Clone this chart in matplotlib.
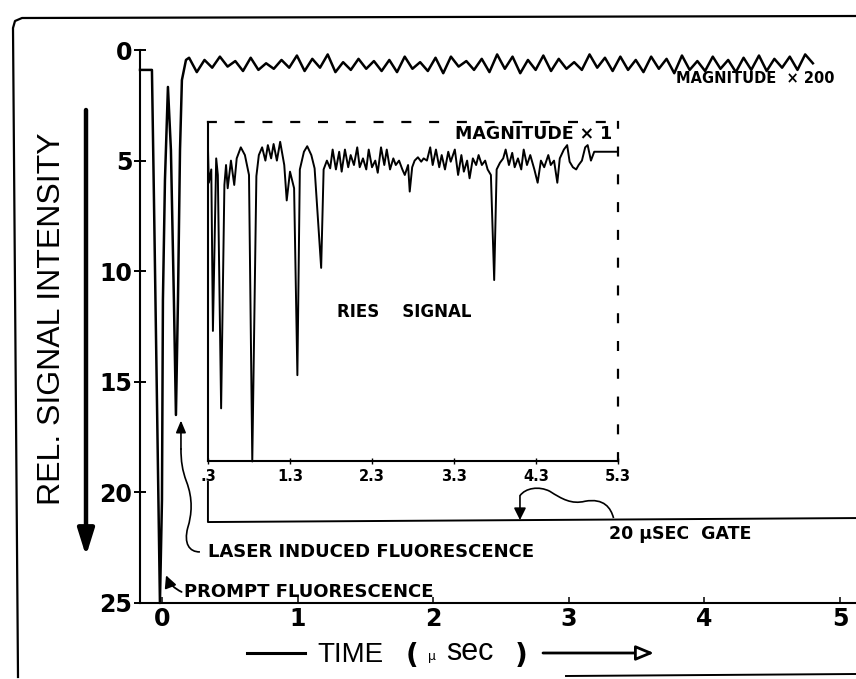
import numpy as np
import matplotlib
matplotlib.use("Agg")
import matplotlib.pyplot as plt
from matplotlib.path import Path
from matplotlib.patches import PathPatch, FancyArrowPatch
from matplotlib.lines import Line2D

# fast transient (magnitude x200): time in usec, relative signal (plotted downward)
fast_t = [-0.162, -0.074, -0.059, -0.037, -0.015, 0.0, 0.007, 0.022, 0.044, 0.066,
          0.088, 0.103, 0.118, 0.133, 0.147, 0.177]
fast_s = [0.90, 0.90, 6.78, 15.82, 25.0, 20.34, 11.30, 5.88, 1.67, 4.52,
          11.30, 16.50, 11.30, 4.52, 1.36, 0.45]

# ripple on the x200 baseline after the fluorescence has decayed
ripple_start, ripple_end = 0.20, 4.80
ripple_s = [0.35, 1.0, 0.45, 0.8, 0.3, 0.75, 0.5, 0.95, 0.35, 0.9,
            0.6, 0.85, 0.45, 0.8, 0.25, 0.95, 0.4, 0.8, 0.2, 1.0,
            0.55, 0.9, 0.4, 0.85, 0.5, 0.95, 0.45, 1.0, 0.3, 0.85,
            0.55, 0.95, 0.35, 1.05, 0.3, 0.75, 0.5, 0.9, 0.4, 1.0,
            0.2, 0.85, 0.3, 1.05, 0.45, 0.9, 0.25, 0.95, 0.4, 0.85,
            0.55, 0.9, 0.2, 0.8, 0.35, 0.95, 0.3, 0.9, 0.45, 1.0,
            0.3, 0.85, 0.4, 1.05, 0.25, 0.9, 0.5, 0.95, 0.3, 0.85,
            0.45, 1.0, 0.35, 0.9, 0.25, 0.95, 0.4, 0.8, 0.3, 0.9,
            0.2, 0.6]

# RIES signal (magnitude x1), gated window .3 - 5.3 usec
ries_t = [0.30, 0.31, 0.34, 0.36, 0.40, 0.42, 0.46, 0.50, 0.52, 0.54,
          0.58, 0.62, 0.65, 0.70, 0.75, 0.80, 0.84, 0.89, 0.92, 0.96,
          1.00, 1.03, 1.07, 1.10, 1.14, 1.18, 1.23, 1.26, 1.30, 1.35,
          1.39, 1.42, 1.47, 1.51, 1.56, 1.60, 1.68, 1.71, 1.75, 1.79,
          1.82, 1.86, 1.90, 1.93, 1.97, 2.01, 2.04, 2.08, 2.12, 2.15,
          2.19, 2.23, 2.26, 2.30, 2.34, 2.37, 2.41, 2.45, 2.48, 2.52,
          2.56, 2.59, 2.63, 2.67, 2.70, 2.74, 2.76, 2.79, 2.82, 2.86,
          2.90, 2.93, 2.97, 3.01, 3.04, 3.08, 3.12, 3.15, 3.19, 3.23,
          3.26, 3.31, 3.35, 3.39, 3.42, 3.46, 3.49, 3.53, 3.57, 3.60,
          3.64, 3.68, 3.71, 3.75, 3.79, 3.82, 3.86, 3.90, 3.93, 3.97,
          4.01, 4.04, 4.08, 4.12, 4.15, 4.19, 4.23, 4.28, 4.32, 4.36,
          4.40, 4.45, 4.48, 4.52, 4.56, 4.59, 4.64, 4.68, 4.71, 4.75,
          4.79, 4.82, 4.86, 4.90, 4.93, 4.97, 5.01, 5.04, 5.29]
ries_s = [4.5, 6.0, 5.4, 12.7, 4.9, 5.65, 16.2, 6.1, 5.2, 6.25,
          5.0, 6.1, 4.9, 4.4, 4.75, 5.65, 18.6, 5.7, 4.75, 4.4,
          5.0, 4.3, 4.9, 4.25, 5.0, 4.15, 5.2, 6.8, 5.5, 6.25,
          14.7, 5.4, 4.6, 4.35, 4.75, 5.35, 9.85, 5.4, 5.0, 5.35,
          4.5, 5.4, 4.6, 5.5, 4.5, 5.3, 4.75, 5.2, 4.4, 5.3,
          4.9, 5.4, 4.5, 5.3, 5.0, 5.55, 4.4, 5.2, 4.5, 5.4,
          4.9, 5.2, 5.0, 5.4, 5.65, 5.2, 6.4, 5.3, 5.0, 4.85,
          5.05, 4.9, 5.0, 4.4, 5.2, 4.5, 5.3, 4.75, 5.4, 4.6,
          5.05, 4.5, 5.65, 4.75, 5.5, 5.0, 5.8, 4.9, 5.2, 4.75,
          5.2, 5.0, 5.4, 5.65, 10.4, 5.4, 5.1, 4.9, 4.5, 5.2,
          4.65, 5.3, 4.9, 5.4, 4.5, 5.2, 4.75, 5.4, 6.0, 5.0,
          5.3, 4.75, 5.2, 5.0, 6.0, 4.9, 4.5, 4.3, 5.05, 5.3,
          5.4, 5.2, 5.0, 4.4, 4.3, 5.0, 4.6, 4.6, 4.6]

main_xticks = [0, 1, 2, 3, 4, 5]
main_yticks = [0, 5, 10, 15, 20, 25]
gate_xticks = [0.3, 1.3, 2.3, 3.3, 4.3, 5.3]
gate_xlabels = [".3", "1.3", "2.3", "3.3", "4.3", "5.3"]

W, H = 856, 679


def fx(x):
    return x / W


def fy(y):
    return 1 - y / H


plt.rcParams["font.family"] = ["DejaVu Sans"]
fig = plt.figure(figsize=(W / 100, H / 100), dpi=100)

# main axes, signal axis pointing down
ax = fig.add_axes([fx(140), fy(603), fx(856) - fx(140), fy(50) - fy(603)])
ax.set_xlim(-0.162, 5.118)
ax.set_ylim(25, 0)
for s in ("top", "right"):
    ax.spines[s].set_visible(False)
for s in ("left", "bottom"):
    ax.spines[s].set_linewidth(1.5)
ax.set_xticks(main_xticks)
ax.set_yticks(main_yticks)
ax.tick_params(axis="y", direction="inout", length=9, width=1.4, pad=1, labelsize=17)
ax.tick_params(axis="x", direction="in", length=4, width=1.1, pad=3, labelsize=17)
for lbl in ax.get_xticklabels() + ax.get_yticklabels():
    lbl.set_fontweight("bold")

ripple_t = np.linspace(ripple_start, ripple_end, len(ripple_s))
trace_t = list(fast_t) + list(ripple_t)
trace_s = list(fast_s) + list(ripple_s)
ax.plot(trace_t, trace_s, color="black", lw=1.8, solid_joinstyle="round", clip_on=False)

# gated RIES inset
ins = fig.add_axes([fx(208), fy(461), fx(618) - fx(208), fy(122) - fy(461)])
ins.patch.set_alpha(0)
ins.set_xlim(0.3, 5.3)
ins.set_ylim(18.58, 3.255)
ins.set_yticks([])
ins.set_xticks(gate_xticks)
ins.set_xticklabels(gate_xlabels, fontsize=10.5, fontweight="bold")
ins.tick_params(axis="x", direction="inout", length=5, width=1.0, pad=3)
for s in ("left", "bottom"):
    ins.spines[s].set_linewidth(1.5)
for s in ("top", "right"):
    ins.spines[s].set_linewidth(1.6)
    ins.spines[s].set_linestyle((0, (3.5, 9)))
ins.plot(ries_t, ries_s, color="black", lw=1.4, solid_joinstyle="round", clip_on=False)

# gate bracket
ax.plot([0.339, 0.339, 5.118], [19.53, 21.34, 21.16], color="black", lw=1.4, clip_on=False)

# annotations
bold = dict(fontweight="bold", color="black")
ax.text(3.79, 1.31, "MAGNITUDE  × 200", fontsize=10.5, ha="left", va="center", **bold)
ax.text(2.16, 3.80, "MAGNITUDE × 1", fontsize=12.5, ha="left", va="center", **bold)
ax.text(1.29, 11.84, "RIES    SIGNAL", fontsize=12, ha="left", va="center", **bold)
ax.text(0.339, 22.69, "LASER INDUCED FLUORESCENCE", fontsize=13, ha="left", va="center", **bold)
ax.text(0.162, 24.50, "PROMPT FLUORESCENCE", fontsize=13, ha="left", va="center", **bold)
ax.text(3.30, 21.88, "20 µSEC  GATE", fontsize=12.5, ha="left", va="center", **bold)

# wavy leader from the LIF label up to the second dip
lif_path = Path([(0.28, 22.69), (0.20, 22.70), (0.16, 22.30), (0.19, 21.60),
                 (0.22, 21.00), (0.23, 20.30), (0.18, 19.50),
                 (0.15, 19.00), (0.14, 18.60), (0.14, 18.00)],
                [Path.MOVETO] + [Path.CURVE4] * 9)
ax.add_patch(PathPatch(lif_path, fc="none", ec="black", lw=1.2, clip_on=False))
ax.annotate("", xy=(0.14, 16.75), xytext=(0.14, 18.05),
            arrowprops=dict(arrowstyle="-|>,head_length=0.6,head_width=0.25",
                            lw=1.2, color="black", mutation_scale=12, shrinkA=0, shrinkB=0))

# prompt fluorescence pointer
ax.annotate("", xy=(0.03, 23.75), xytext=(0.145, 24.5),
            arrowprops=dict(arrowstyle="-|>,head_length=0.6,head_width=0.3",
                            lw=1.3, color="black", mutation_scale=12,
                            shrinkA=0, shrinkB=0, connectionstyle="arc3,rad=-0.2"))

# gate start marker with its curly leader
gate_path = Path([(3.33, 21.16), (3.31, 20.70), (3.26, 20.25), (3.12, 20.40),
                  (3.02, 20.55), (2.95, 20.30), (2.86, 19.95),
                  (2.78, 19.70), (2.68, 19.80), (2.64, 20.15)],
                 [Path.MOVETO] + [Path.CURVE4] * 9)
ax.add_patch(PathPatch(gate_path, fc="none", ec="black", lw=1.2, clip_on=False))
ax.annotate("", xy=(2.64, 21.25), xytext=(2.64, 20.15),
            arrowprops=dict(arrowstyle="-|>,head_length=0.6,head_width=0.3",
                            lw=1.2, color="black", mutation_scale=12, shrinkA=0, shrinkB=0))

# axis titles
fig.text(fx(52), fy(319), "REL. SIGNAL INTENSITY", rotation=90, ha="center", va="center",
         fontsize=23, family="Liberation Sans")
fig.add_artist(FancyArrowPatch((fx(86), fy(110)), (fx(86), fy(556)), transform=fig.transFigure,
                               arrowstyle="-|>,head_length=0.8,head_width=0.25",
                               mutation_scale=20, lw=3.2, color="black", shrinkA=0, shrinkB=0))

fig.add_artist(Line2D([fx(247), fx(305)], [fy(653), fy(653)], color="black", lw=2.2))
fig.text(fx(317), fy(662), "TIME", fontsize=20, family="Liberation Sans", ha="left", va="baseline")
fig.text(fx(412), fy(664), "(", fontsize=20, fontweight="bold", ha="center", va="baseline")
fig.text(fx(432), fy(660), "µ", fontsize=9, ha="center", va="baseline")
fig.text(fx(446), fy(660), "sec", fontsize=22, family="Liberation Sans", ha="left", va="baseline")
fig.text(fx(521), fy(664), ")", fontsize=20, fontweight="bold", ha="center", va="baseline")
fig.add_artist(FancyArrowPatch((fx(543), fy(653)), (fx(654), fy(653)), transform=fig.transFigure,
                               arrowstyle="-|>,head_length=0.6,head_width=0.25",
                               mutation_scale=18, lw=2.0, fc="white", ec="black",
                               shrinkA=0, shrinkB=0))

# plate border
fig.add_artist(Line2D([fx(856), fx(22), fx(15), fx(13), fx(18)],
                      [fy(16), fy(18), fy(21), fy(28), fy(677)], color="black", lw=1.6))
fig.add_artist(Line2D([fx(566), fx(856)], [fy(676), fy(674)], color="black", lw=1.4))

fig.savefig("out.png", dpi=100)
